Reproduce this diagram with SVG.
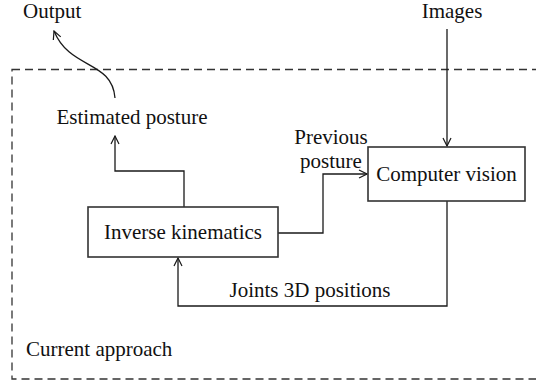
<svg xmlns="http://www.w3.org/2000/svg" width="536" height="383" viewBox="0 0 536 383">
<style>
text{font-family:"Liberation Serif","Times New Roman",serif;font-size:21px;fill:#111}
.box{fill:#fff;stroke:#333;stroke-width:1.6}
.ln{fill:none;stroke:#1a1a1a;stroke-width:1.3;marker-end:url(#ah)}
.dash{fill:none;stroke:#333;stroke-width:1.3;stroke-dasharray:8 5}
</style>
<defs>
<marker id="ah" viewBox="0 0 10 10" refX="9" refY="5" markerWidth="10" markerHeight="10" markerUnits="userSpaceOnUse" orient="auto">
<path d="M1,1 L9,5 L1,9" fill="none" stroke="#1a1a1a" stroke-width="1.2"/>
</marker>
</defs>
<rect id="boundary" class="dash" x="12" y="69.5" width="530" height="309.5"/>
<g id="connectors">
<path class="ln" d="M447,29 V146"/>
<path class="ln" d="M115,98 C112,60 70,70 54,31"/>
<path class="ln" d="M184,207 V171 H115 V136"/>
<path class="ln" d="M278,233 H323 V174 H367"/>
<path class="ln" d="M447,201 V306 H178 V258"/>
</g>
<g id="output"><text x="23" y="18">Output</text></g>
<g id="images"><text x="452" y="18" text-anchor="middle">Images</text></g>
<g id="estimated-posture"><text x="132" y="124" text-anchor="middle">Estimated posture</text></g>
<g id="previous-posture"><text x="331" y="144" text-anchor="middle">Previous</text><text x="331" y="168" text-anchor="middle">posture</text></g>
<g id="inverse-kinematics"><rect class="box" x="88" y="207" width="190" height="50"/><text x="183" y="239" text-anchor="middle">Inverse kinematics</text></g>
<g id="computer-vision"><rect class="box" x="368" y="147" width="157" height="54"/><text x="446.5" y="181" text-anchor="middle">Computer vision</text></g>
<g id="joints"><text x="310" y="297" text-anchor="middle">Joints 3D positions</text></g>
<g id="current-approach"><text x="26" y="356">Current approach</text></g>
</svg>
